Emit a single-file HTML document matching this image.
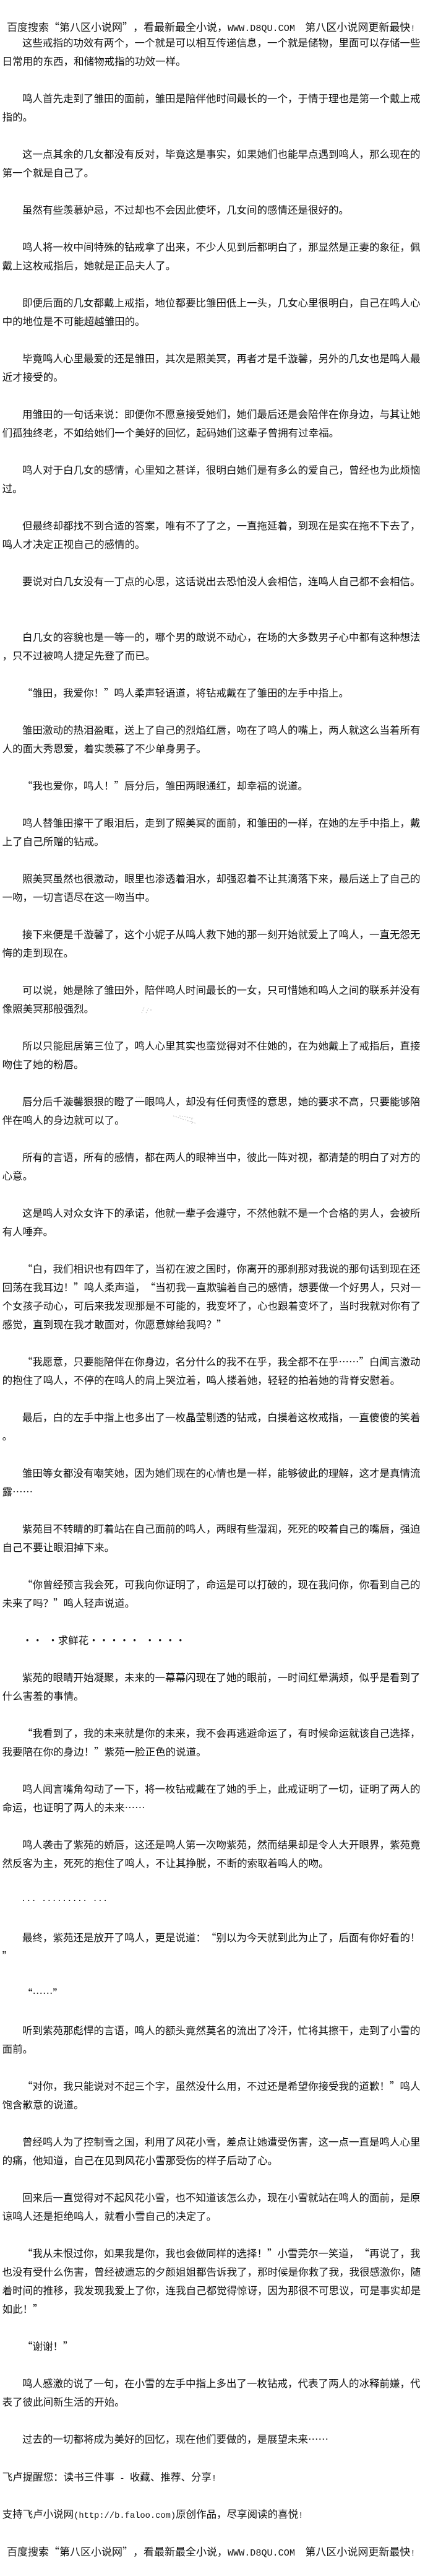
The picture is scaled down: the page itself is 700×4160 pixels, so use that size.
<!DOCTYPE html>
<html lang="zh-CN"><head><meta charset="utf-8"><title>第八区小说网</title>
<style>
html,body{margin:0;padding:0;background:#fff}
#p{position:relative;width:700px;height:4160px;overflow:hidden;background:#fff;color:#111;font-family:"Noto Sans CJK SC","WenQuanYi Zen Hei",sans-serif;font-size:16.5px}
.l{position:absolute;left:3.6px;line-height:30px;height:30px;white-space:pre}
.i{left:36px}
.h{font-size:17px;left:11px}
.m{font-family:"Liberation Mono",monospace}
.m1{font-size:15.13px}
.m2{font-size:13.75px}
.s{display:inline-block;width:8.25px}
i{font-style:normal;display:inline-block;width:1em}
i.o{text-align:right;padding-right:.1em;width:.9em}
i.c{text-align:left}
i.e{width:2em;text-align:center}
svg{position:absolute;left:0;top:0}
</style></head><body><div id="p">
<div class="l h" style="top:28px">百度搜索<i class="o">“</i>第八区小说网<i class="c">”</i>，看最新最全小说，<span class="m m1">WWW.D8QU.COM</span><span class="s"></span><span class="s"></span>第八区小说网更新最快<span class="m m2">!</span></div>
<div class="l i" style="top:53px">这些戒指的功效有两个，一个就是可以相互传递信息，一个就是储物，里面可以存储一些</div>
<div class="l" style="top:83px">日常用的东西，和储物戒指的功效一样。</div>
<div class="l i" style="top:143px">鸣人首先走到了雏田的面前，雏田是陪伴他时间最长的一个，于情于理也是第一个戴上戒</div>
<div class="l" style="top:173px">指的。</div>
<div class="l i" style="top:233px">这一点其余的几女都没有反对，毕竟这是事实，如果她们也能早点遇到鸣人，那么现在的</div>
<div class="l" style="top:263px">第一个就是自己了。</div>
<div class="l i" style="top:323px">虽然有些羡慕妒忌，不过却也不会因此使坏，几女间的感情还是很好的。</div>
<div class="l i" style="top:383px">鸣人将一枚中间特殊的钻戒拿了出来，不少人见到后都明白了，那显然是正妻的象征，佩</div>
<div class="l" style="top:413px">戴上这枚戒指后，她就是正品夫人了。</div>
<div class="l i" style="top:473px">即便后面的几女都戴上戒指，地位都要比雏田低上一头，几女心里很明白，自己在鸣人心</div>
<div class="l" style="top:503px">中的地位是不可能超越雏田的。</div>
<div class="l i" style="top:563px">毕竟鸣人心里最爱的还是雏田，其次是照美冥，再者才是千漩馨，另外的几女也是鸣人最</div>
<div class="l" style="top:593px">近才接受的。</div>
<div class="l i" style="top:653px">用雏田的一句话来说：即便你不愿意接受她们，她们最后还是会陪伴在你身边，与其让她</div>
<div class="l" style="top:683px">们孤独终老，不如给她们一个美好的回忆，起码她们这辈子曾拥有过幸福。</div>
<div class="l i" style="top:743px">鸣人对于白几女的感情，心里知之甚详，很明白她们是有多么的爱自己，曾经也为此烦恼</div>
<div class="l" style="top:773px">过。</div>
<div class="l i" style="top:833px">但最终却都找不到合适的答案，唯有不了了之，一直拖延着，到现在是实在拖不下去了，</div>
<div class="l" style="top:863px">鸣人才决定正视自己的感情的。</div>
<div class="l i" style="top:923px">要说对白几女没有一丁点的心思，这话说出去恐怕没人会相信，连鸣人自己都不会相信。</div>
<div class="l i" style="top:1013px">白几女的容貌也是一等一的，哪个男的敢说不动心，在场的大多数男子心中都有这种想法</div>
<div class="l" style="top:1043px">，只不过被鸣人捷足先登了而已。</div>
<div class="l i" style="top:1103px"><i class="o">“</i>雏田，我爱你！<i class="c">”</i>鸣人柔声轻语道，将钻戒戴在了雏田的左手中指上。</div>
<div class="l i" style="top:1163px">雏田激动的热泪盈眶，送上了自己的烈焰红唇，吻在了鸣人的嘴上，两人就这么当着所有</div>
<div class="l" style="top:1193px">人的面大秀恩爱，着实羡慕了不少单身男子。</div>
<div class="l i" style="top:1253px"><i class="o">“</i>我也爱你，鸣人！<i class="c">”</i>唇分后，雏田两眼通红，却幸福的说道。</div>
<div class="l i" style="top:1313px">鸣人替雏田擦干了眼泪后，走到了照美冥的面前，和雏田的一样，在她的左手中指上，戴</div>
<div class="l" style="top:1343px">上了自己所赠的钻戒。</div>
<div class="l i" style="top:1403px">照美冥虽然也很激动，眼里也渗透着泪水，却强忍着不让其滴落下来，最后送上了自己的</div>
<div class="l" style="top:1433px">一吻，一切言语尽在这一吻当中。</div>
<div class="l i" style="top:1493px">接下来便是千漩馨了，这个小妮子从鸣人救下她的那一刻开始就爱上了鸣人，一直无怨无</div>
<div class="l" style="top:1523px">悔的走到现在。</div>
<div class="l i" style="top:1583px">可以说，她是除了雏田外，陪伴鸣人时间最长的一女，只可惜她和鸣人之间的联系并没有</div>
<div class="l" style="top:1613px">像照美冥那般强烈。</div>
<div class="l i" style="top:1673px">所以只能屈居第三位了，鸣人心里其实也蛮觉得对不住她的，在为她戴上了戒指后，直接</div>
<div class="l" style="top:1703px">吻住了她的粉唇。</div>
<div class="l i" style="top:1763px">唇分后千漩馨狠狠的瞪了一眼鸣人，却没有任何责怪的意思，她的要求不高，只要能够陪</div>
<div class="l" style="top:1793px">伴在鸣人的身边就可以了。</div>
<div class="l i" style="top:1853px">所有的言语，所有的感情，都在两人的眼神当中，彼此一阵对视，都清楚的明白了对方的</div>
<div class="l" style="top:1883px">心意。</div>
<div class="l i" style="top:1943px">这是鸣人对众女许下的承诺，他就一辈子会遵守，不然他就不是一个合格的男人，会被所</div>
<div class="l" style="top:1973px">有人唾弃。</div>
<div class="l i" style="top:2033px"><i class="o">“</i>白，我们相识也有四年了，当初在波之国时，你离开的那刹那对我说的那句话到现在还</div>
<div class="l" style="top:2063px">回荡在我耳边！<i class="c">”</i>鸣人柔声道，<i class="o">“</i>当初我一直欺骗着自己的感情，想要做一个好男人，只对一</div>
<div class="l" style="top:2093px">个女孩子动心，可后来我发现那是不可能的，我变坏了，心也跟着变坏了，当时我就对你有了</div>
<div class="l" style="top:2123px">感觉，直到现在我才敢面对，你愿意嫁给我吗？<i class="c">”</i></div>
<div class="l i" style="top:2183px"><i class="o">“</i>我愿意，只要能陪伴在你身边，名分什么的我不在乎，我全都不在乎<i class="e">……</i><i class="c">”</i>白闻言激动</div>
<div class="l" style="top:2213px">的抱住了鸣人，不停的在鸣人的肩上哭泣着，鸣人搂着她，轻轻的拍着她的背脊安慰着。</div>
<div class="l i" style="top:2273px">最后，白的左手中指上也多出了一枚晶莹剔透的钻戒，白摸着这枚戒指，一直傻傻的笑着</div>
<div class="l" style="top:2303px">。</div>
<div class="l i" style="top:2363px">雏田等女都没有嘲笑她，因为她们现在的心情也是一样，能够彼此的理解，这才是真情流</div>
<div class="l" style="top:2393px">露<i class="e">……</i></div>
<div class="l i" style="top:2453px">紫苑目不转睛的盯着站在自己面前的鸣人，两眼有些湿润，死死的咬着自己的嘴唇，强迫</div>
<div class="l" style="top:2483px">自己不要让眼泪掉下来。</div>
<div class="l i" style="top:2543px"><i class="o">“</i>你曾经预言我会死，可我向你证明了，命运是可以打破的，现在我问你，你看到自己的</div>
<div class="l" style="top:2573px">未来了吗？<i class="c">”</i>鸣人轻声说道。</div>
<div class="l i" style="top:2633px">・・<span class="s"></span>・求鲜花・・・・・<span class="s"></span>・・・・</div>
<div class="l i" style="top:2693px">紫苑的眼睛开始凝聚，未来的一幕幕闪现在了她的眼前，一时间红晕满颊，似乎是看到了</div>
<div class="l" style="top:2723px">什么害羞的事情。</div>
<div class="l i" style="top:2783px"><i class="o">“</i>我看到了，我的未来就是你的未来，我不会再逃避命运了，有时候命运就该自己选择，</div>
<div class="l" style="top:2813px">我要陪在你的身边！<i class="c">”</i>紫苑一脸正色的说道。</div>
<div class="l i" style="top:2873px">鸣人闻言嘴角勾动了一下，将一枚钻戒戴在了她的手上，此戒证明了一切，证明了两人的</div>
<div class="l" style="top:2903px">命运，也证明了两人的未来<i class="e">……</i></div>
<div class="l i" style="top:2963px">鸣人袭击了紫苑的娇唇，这还是鸣人第一次吻紫苑，然而结果却是令人大开眼界，紫苑竟</div>
<div class="l" style="top:2993px">然反客为主，死死的抱住了鸣人，不让其挣脱，不断的索取着鸣人的吻。</div>
<div class="l i m m2" style="top:3053px;left:34px">... ......... ...</div>
<div class="l i" style="top:3113px">最终，紫苑还是放开了鸣人，更是说道：<i class="o">“</i>别以为今天就到此为止了，后面有你好看的！</div>
<div class="l" style="top:3143px"><i class="c">”</i></div>
<div class="l i" style="top:3203px"><i class="o">“</i><i class="e">……</i><i class="c">”</i></div>
<div class="l i" style="top:3263px">听到紫苑那彪悍的言语，鸣人的额头竟然莫名的流出了冷汗，忙将其擦干，走到了小雪的</div>
<div class="l" style="top:3293px">面前。</div>
<div class="l i" style="top:3353px"><i class="o">“</i>对你，我只能说对不起三个字，虽然没什么用，不过还是希望你接受我的道歉！<i class="c">”</i>鸣人</div>
<div class="l" style="top:3383px">饱含歉意的说道。</div>
<div class="l i" style="top:3443px">曾经鸣人为了控制雪之国，利用了风花小雪，差点让她遭受伤害，这一点一直是鸣人心里</div>
<div class="l" style="top:3473px">的痛，他知道，自己在见到风花小雪那受伤的样子后动了心。</div>
<div class="l i" style="top:3533px">回来后一直觉得对不起风花小雪，也不知道该怎么办，现在小雪就站在鸣人的面前，是原</div>
<div class="l" style="top:3563px">谅鸣人还是拒绝鸣人，就看小雪自己的决定了。</div>
<div class="l i" style="top:3623px"><i class="o">“</i>我从未恨过你，如果我是你，我也会做同样的选择！<i class="c">”</i>小雪莞尔一笑道，<i class="o">“</i>再说了，我</div>
<div class="l" style="top:3653px">也没有受什么伤害，曾经被遗忘的夕颜姐姐都告诉我了，那时候是你救了我，我很感激你，随</div>
<div class="l" style="top:3683px">着时间的推移，我发现我爱上了你，连我自己都觉得惊讶，因为那很不可思议，可是事实却是</div>
<div class="l" style="top:3713px">如此！<i class="c">”</i></div>
<div class="l i" style="top:3773px"><i class="o">“</i>谢谢！<i class="c">”</i></div>
<div class="l i" style="top:3833px">鸣人感激的说了一句，在小雪的左手中指上多出了一枚钻戒，代表了两人的冰释前嫌，代</div>
<div class="l" style="top:3863px">表了彼此间新生活的开始。</div>
<div class="l i" style="top:3923px">过去的一切都将成为美好的回忆，现在他们要做的，是展望未来<i class="e">……</i></div>
<div class="l" style="top:3984px">飞卢提醒您：读书三件事<span class="m m2"> - </span>收藏、推荐、分享<span class="m m2">!</span></div>
<div class="l" style="top:4044px">支持飞卢小说网<span class="m m2">(http://b.faloo.com)</span>原创作品，尽享阅读的喜悦<span class="m m2">!</span></div>
<div class="l h" style="top:4105px">百度搜索<i class="o">“</i>第八区小说网<i class="c">”</i>，看最新最全小说，<span class="m m1">WWW.D8QU.COM</span><span class="s"></span><span class="s"></span>第八区小说网更新最快<span class="m m2">!</span></div>
<svg width="700" height="4160" fill="none" stroke="#bbb" stroke-width="1" stroke-dasharray="2 2">
<path d="M229 1636l4-9M236 1636l4-8M243 1631h4"/>
<path d="M314 1684l43 3M320 1692l35-6"/>
<path d="M220 1772h12M236 1776l30 8M244 1784l20-6"/>
<path d="M498 1771l22 14M505 1785l12-12"/>
<path d="M280 1802l36 12M290 1802l24 4M310 1806v9"/>
<path d="M314 1953l43 12M325 1965l30-12"/>
</svg>
</div></body></html>
